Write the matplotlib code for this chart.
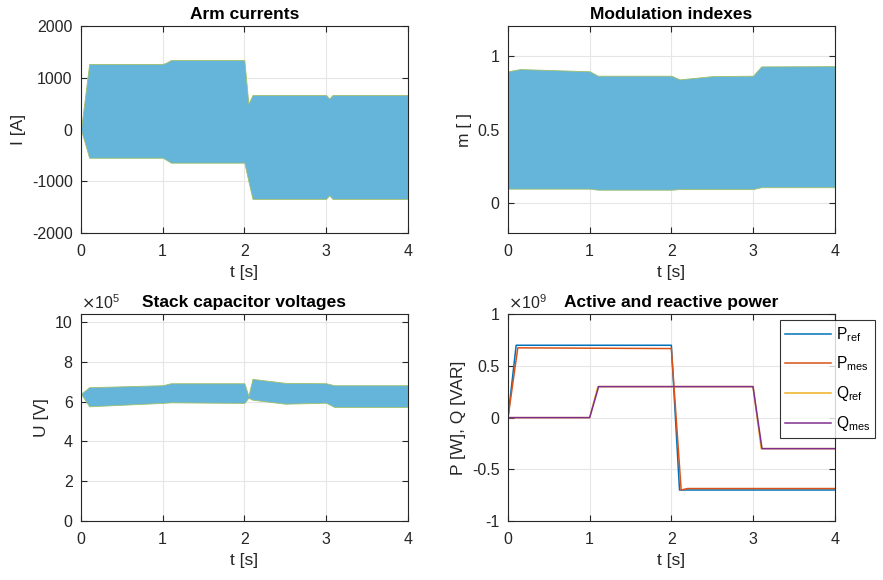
import matplotlib
matplotlib.use('Agg')
import matplotlib.pyplot as plt

plt.rcParams['font.family'] = ['Liberation Sans', 'DejaVu Sans']
plt.rcParams['axes.unicode_minus'] = False

# Arm currents: envelope of the six arm currents [A]
t_arm = [0, 0.1, 1.0, 1.05, 1.1, 2.0, 2.05, 2.1, 3.0, 3.04, 3.08, 4.0]
arm_upper = [0, 1270, 1270, 1300, 1345, 1345, 500, 670, 670, 600, 670, 670]
arm_lower = [0, -545, -545, -590, -640, -640, -1000, -1340, -1340, -1270, -1340, -1340]

# Modulation indexes: envelope
t_mod = [0, 0.1, 0.15, 1.0, 1.1, 2.0, 2.1, 2.5, 3.0, 3.1, 4.0]
mod_upper = [0.895, 0.905, 0.91, 0.895, 0.865, 0.865, 0.84, 0.862, 0.865, 0.928, 0.93]
mod_lower = [0.10, 0.10, 0.10, 0.10, 0.093, 0.093, 0.097, 0.097, 0.097, 0.11, 0.11]

# Stack capacitor voltages: envelope [V]
t_cap = [0, 0.1, 1.0, 1.1, 2.0, 2.05, 2.1, 2.5, 3.0, 3.1, 4.0]
cap_upper = [6.4e5, 6.73e5, 6.83e5, 6.93e5, 6.93e5, 6.3e5, 7.15e5, 6.95e5, 6.93e5, 6.83e5, 6.83e5]
cap_lower = [6.4e5, 5.77e5, 5.94e5, 5.97e5, 5.94e5, 6.2e5, 6.1e5, 5.9e5, 5.95e5, 5.74e5, 5.74e5]

# Active and reactive power
t_pref = [0, 0.1, 2.0, 2.1, 4.0]
p_ref = [0, 0.7e9, 0.7e9, -0.7e9, -0.7e9]
t_pmes = [0, 0.12, 2.0, 2.12, 2.2, 4.0]
p_mes = [0, 0.675e9, 0.668e9, -0.70e9, -0.686e9, -0.686e9]
t_qref = [0, 1.0, 1.1, 3.0, 3.1, 4.0]
q_ref = [0, 0, 0.3e9, 0.3e9, -0.3e9, -0.3e9]
t_qmes = [0, 1.0, 1.11, 3.0, 3.11, 4.0]
q_mes = [0, 0, 0.3e9, 0.3e9, -0.3e9, -0.3e9]

c_blue = '#0072BD'
c_orange = '#D95319'
c_yellow = '#EDB120'
c_purple = '#7E2F8E'
c_band = '#64B5D9'
c_text = '#262626'

fig = plt.figure(figsize=(8.83, 5.8), dpi=100)

W = 0.3700
H = 0.3565
ax1 = fig.add_axes([0.0917, 0.5983, W, H])
ax2 = fig.add_axes([0.5753, 0.5983, W, H])
ax3 = fig.add_axes([0.0917, 0.1017, W, H])
ax4 = fig.add_axes([0.5753, 0.1017, W, H])


def style(ax, title):
    ax.set_xlim(0, 4)
    ax.set_xticks([0, 1, 2, 3, 4])
    ax.grid(True, color='#e6e6e6', linewidth=0.8)
    ax.set_axisbelow(True)
    for s in ax.spines.values():
        s.set_color(c_text)
        s.set_linewidth(0.8)
    ax.tick_params(direction='in', top=True, right=True, length=4,
                   labelsize=11.5, colors=c_text, width=0.8)
    ax.tick_params(axis='x', pad=8)
    ax.tick_params(axis='y', pad=6)
    ax.set_title(title, fontsize=12.5, fontweight='bold', color='black', pad=5)
    ax.set_xlabel('t [s]', fontsize=12.5, color=c_text, labelpad=4)


ax1.fill_between(t_arm, arm_lower, arm_upper, color=c_band, linewidth=0.6,
                 edgecolor='#9fbf6a')
ax1.set_ylim(-2000, 2000)
ax1.set_yticks([-2000, -1000, 0, 1000, 2000])
ax1.set_yticklabels(['-2000', '-1000', '0', '1000', '2000'])
style(ax1, 'Arm currents')
ax1.set_ylabel('I [A]', fontsize=12.5, color=c_text)

ax2.fill_between(t_mod, mod_lower, mod_upper, color=c_band, linewidth=0.6,
                 edgecolor='#9fbf6a')
ax2.set_ylim(-0.2, 1.2)
ax2.set_yticks([0, 0.5, 1])
ax2.set_yticklabels(['0', '0.5', '1'])
style(ax2, 'Modulation indexes')
ax2.set_ylabel('m [ ]', fontsize=12.5, color=c_text)

ax3.fill_between(t_cap, cap_lower, cap_upper, color=c_band, linewidth=0.6,
                 edgecolor='#9fbf6a')
ax3.set_ylim(0, 1.04e6)
ax3.set_yticks([0, 2e5, 4e5, 6e5, 8e5, 10e5])
ax3.set_yticklabels(['0', '2', '4', '6', '8', '10'])
style(ax3, 'Stack capacitor voltages')
ax3.text(0.0, 1.012, r'$\times\mathregular{10^5}$', transform=ax3.transAxes,
         fontsize=11.5, color=c_text, ha='left', va='bottom')
ax3.set_ylabel('U [V]', fontsize=12.5, color=c_text)

ax4.plot(t_pref, p_ref, color=c_blue, lw=1.1, label='P$_{\\mathregular{ref}}$')
ax4.plot(t_pmes, p_mes, color=c_orange, lw=1.1, label='P$_{\\mathregular{mes}}$')
ax4.plot(t_qref, q_ref, color=c_yellow, lw=1.1, label='Q$_{\\mathregular{ref}}$')
ax4.plot(t_qmes, q_mes, color=c_purple, lw=1.1, label='Q$_{\\mathregular{mes}}$')
ax4.set_ylim(-1e9, 1e9)
ax4.set_yticks([-1e9, -0.5e9, 0, 0.5e9, 1e9])
ax4.set_yticklabels(['-1', '-0.5', '0', '0.5', '1'])
style(ax4, 'Active and reactive power')
ax4.text(0.0, 1.012, r'$\times\mathregular{10^9}$', transform=ax4.transAxes,
         fontsize=11.5, color=c_text, ha='left', va='bottom')
ax4.set_ylabel('P [W], Q [VAR]', fontsize=12.5, color=c_text)
leg = ax4.legend(loc='upper left', bbox_to_anchor=(0.833, 0.97), fontsize=11.2,
                 frameon=True, fancybox=False, edgecolor='black',
                 handlelength=3.0, labelspacing=0.7, borderpad=0.3,
                 handletextpad=0.3, borderaxespad=0)
leg.get_frame().set_linewidth(0.8)

fig.savefig('out.png', dpi=100)
